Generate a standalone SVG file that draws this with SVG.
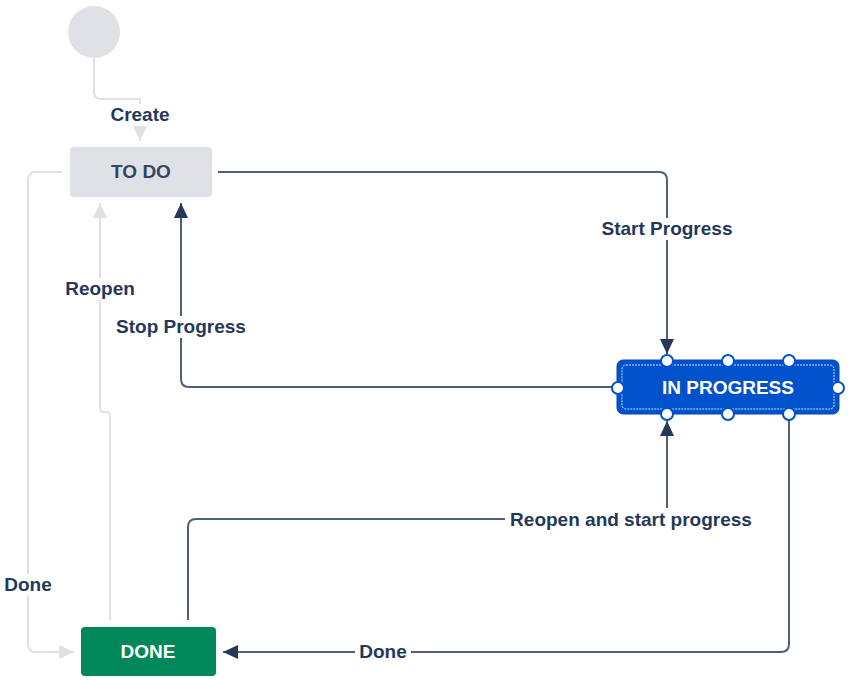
<svg xmlns="http://www.w3.org/2000/svg" width="851" height="681" viewBox="0 0 851 681">
<style>
.lbl{font-family:"Liberation Sans",Arial,sans-serif;font-weight:bold;font-size:19px;fill:#253858;text-anchor:middle;dominant-baseline:central}
.ntx{font-family:"Liberation Sans",Arial,sans-serif;font-weight:bold;font-size:19px;text-anchor:middle;dominant-baseline:central}
.dk{fill:none;stroke:#505f79;stroke-width:2}
.gr{fill:none;stroke:#dfe1e6;stroke-width:2}
.bg{fill:#ffffff}
.h{fill:#ffffff;stroke:#0052cc;stroke-width:2}
</style>
<defs>
<marker id="ad" markerUnits="userSpaceOnUse" markerWidth="15" markerHeight="14" refX="15" refY="7" orient="auto"><path d="M0,0 L15,7 L0,14 z" fill="#253858"/></marker>
<marker id="ag" markerUnits="userSpaceOnUse" markerWidth="15" markerHeight="14" refX="15" refY="7" orient="auto"><path d="M0,0 L15,7 L0,14 z" fill="#dfe1e6"/></marker>
</defs>
<g id="connectors">
<path class="gr" d="M94,58 V92 Q94,99 101,99 H140 V141" marker-end="url(#ag)"/>
<path class="dk" d="M218,172 H659 Q667,172 667,180 V354" marker-end="url(#ad)"/>
<path class="dk" d="M612,387 H189 Q181,387 181,379 V203" marker-end="url(#ad)"/>
<path class="gr" d="M110,620 V416 Q110,412 106,412 H104 Q100,412 100,408 V203" marker-end="url(#ag)"/>
<path class="gr" d="M62,172 H36 Q28,172 28,180 V644 Q28,652 36,652 H74" marker-end="url(#ag)"/>
<path class="dk" d="M789,414 V644 Q789,652 781,652 H223" marker-end="url(#ad)"/>
<path class="dk" d="M188,620 V527 Q188,519 196,519 H667 V421" marker-end="url(#ad)"/>
<rect class="bg" x="106" y="104" width="68" height="22"/>
<text class="lbl" x="140" y="114.5">Create</text>
<rect class="bg" x="597" y="218" width="140" height="22"/>
<text class="lbl" x="667" y="228.5">Start Progress</text>
<rect class="bg" x="110" y="316" width="142" height="22"/>
<text class="lbl" x="181" y="326.5">Stop Progress</text>
<rect class="bg" x="61" y="278" width="78" height="22"/>
<text class="lbl" x="100" y="288.5">Reopen</text>
<rect class="bg" x="1" y="574" width="54" height="22"/>
<text class="lbl" x="28" y="584.5">Done</text>
<rect class="bg" x="355" y="641" width="56" height="22"/>
<text class="lbl" x="383" y="651.5">Done</text>
<rect class="bg" x="505" y="508" width="253" height="23"/>
<text class="lbl" x="631" y="519.5">Reopen and start progress</text>
</g>
<g id="start">
<circle cx="94" cy="32" r="26" fill="#dfe1e6"/>
</g>
<g id="todo">
<rect x="70" y="147" width="142" height="50" rx="4" fill="#dfe1e6"/>
<text class="ntx" x="141" y="171.5" fill="#344563">TO DO</text>
</g>
<g id="inprogress">
<rect x="617" y="360" width="222" height="54" rx="6" fill="#0052cc" stroke="#0747a6" stroke-width="1"/>
<rect x="622" y="365" width="212" height="44" rx="4" fill="none" stroke="#ffffff" stroke-width="1" stroke-dasharray="2,1" opacity="0.8"/>
<text class="ntx" x="728" y="387.5" fill="#ffffff">IN PROGRESS</text>
<circle class="h" cx="667" cy="361" r="6"/>
<circle class="h" cx="728" cy="361" r="6"/>
<circle class="h" cx="789" cy="361" r="6"/>
<circle class="h" cx="667" cy="414" r="6"/>
<circle class="h" cx="728" cy="414" r="6"/>
<circle class="h" cx="789" cy="414" r="6"/>
<circle class="h" cx="618" cy="388" r="6"/>
<circle class="h" cx="838" cy="388" r="6"/>
</g>
<g id="done">
<rect x="81" y="627" width="135" height="49" rx="4" fill="#00875a"/>
<text class="ntx" x="148" y="651.5" fill="#ffffff">DONE</text>
</g>
</svg>
